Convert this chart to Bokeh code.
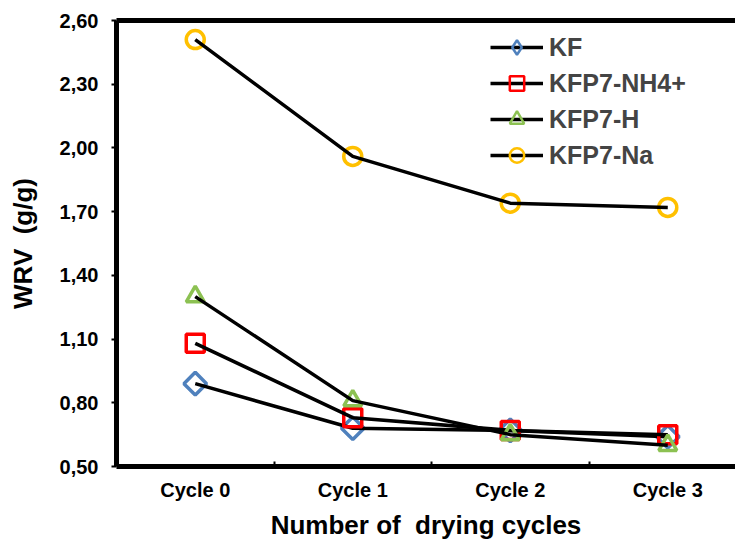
import math
from bokeh.plotting import figure
from bokeh.models import Range1d, FixedTicker, LinearAxis, Legend
from bokeh.embed import file_html
from bokeh.resources import INLINE

# ---- data ----
cycles = ["Cycle 0", "Cycle 1", "Cycle 2", "Cycle 3"]
kf = [0.89, 0.68, 0.67, 0.64]
kfp7_nh4 = [1.08, 0.73, 0.67, 0.65]
kfp7_h = [1.30, 0.81, 0.65, 0.60]
kfp7_na = [2.51, 1.96, 1.74, 1.72]
y_ticks = [0.50, 0.80, 1.10, 1.40, 1.70, 2.00, 2.30, 2.60]
y_tick_labels = ["0,50", "0,80", "1,10", "1,40", "1,70", "2,00", "2,30", "2,60"]
x_title = "Number of\u00a0 drying cycles"
y_title = "WRV\u00a0 (g/g)"

FONT = "Liberation Sans"
xs = list(range(len(cycles)))

p = figure(width=735, height=548, output_backend="svg", toolbar_location=None,
           x_range=Range1d(-0.5, 3.43), y_range=Range1d(0.5, 2.6),
           min_border_left=116, min_border_right=0, min_border_top=20,
           min_border_bottom=82)
p.outline_line_color = None
p.xgrid.visible = False
p.ygrid.visible = False
p.background_fill_color = "white"
p.border_fill_color = "white"

# name, values, marker (plot), size, angle, colour, marker (legend)
series = [
    ("KF", kf, "square", 16, math.pi / 4, "#4F81BD", "diamond"),
    ("KFP7-NH4+", kfp7_nh4, "square", 18, 0, "#FF0000", "square"),
    ("KFP7-H", kfp7_h, "triangle", 18, 0, "#8CC152", "triangle"),
    ("KFP7-Na", kfp7_na, "circle", 18, 0, "#FFC000", "circle"),
]

items = []
for name, ys, marker, size, ang, col, lmarker in series:
    # legend-key glyph: zero size in the plot, sized by the legend box in the key
    rl = p.scatter(xs, ys, marker=lmarker, size=0, fill_color=None,
                   line_color=col, line_width=2.5)
    p.scatter(xs, ys, marker=marker, size=size, angle=ang,
              fill_color=None, line_color=col, line_width=3.5)
    r2 = p.line(xs, ys, line_color="black", line_width=3.5)
    items.append((name, [r2, rl]))

legend = Legend(items=items, location=(374, 293))
legend.border_line_color = None
legend.background_fill_alpha = 0
legend.padding = 0
legend.margin = 0
legend.spacing = 0
legend.glyph_width = 53
legend.glyph_height = 36
legend.label_standoff = 6
legend.label_text_font = FONT
legend.label_text_font_style = "bold"
legend.label_text_font_size = "25px"
p.add_layout(legend, "center")

# x axis
xa = p.xaxis[0]
xa.ticker = FixedTicker(ticks=xs, minor_ticks=[0.5, 1.5, 2.5])
xa.major_label_overrides = {i: c for i, c in zip(xs, cycles)}
xa.major_tick_line_color = None
xa.major_tick_in = 0
xa.major_tick_out = 0
xa.minor_tick_in = 5
xa.minor_tick_out = 0
xa.minor_tick_line_width = 2
xa.minor_tick_line_color = "black"
xa.axis_line_width = 5
xa.axis_line_color = "black"
xa.major_label_standoff = 12
xa.major_label_text_font = FONT
xa.major_label_text_font_style = "bold"
xa.major_label_text_font_size = "20px"
xa.major_label_text_color = "black"
xa.axis_label = x_title
xa.axis_label_standoff = 6
xa.axis_label_text_font = FONT
xa.axis_label_text_font_style = "bold"
xa.axis_label_text_font_size = "26px"
xa.axis_label_text_color = "black"

# y axis
ya = p.yaxis[0]
ya.ticker = FixedTicker(ticks=y_ticks, minor_ticks=[])
ya.major_label_overrides = {t: l for t, l in zip(y_ticks, y_tick_labels)}
ya.major_tick_in = 0
ya.major_tick_out = 5
ya.major_tick_line_width = 2
ya.axis_line_width = 5
ya.axis_line_color = "black"
ya.major_label_standoff = 13
ya.major_label_text_font = FONT
ya.major_label_text_font_style = "bold"
ya.major_label_text_font_size = "20px"
ya.major_label_text_color = "black"
ya.axis_label = y_title
ya.axis_label_standoff = 19
ya.axis_label_text_font = FONT
ya.axis_label_text_font_style = "bold"
ya.axis_label_text_font_size = "26px"
ya.axis_label_text_color = "black"

# top frame line
top = LinearAxis(ticker=FixedTicker(ticks=[]), major_label_text_font_size="0px",
                 major_tick_line_color=None, minor_tick_line_color=None,
                 axis_line_width=5, axis_line_color="black")
p.add_layout(top, "above")

open("out.html", "w").write(file_html(p, INLINE))
